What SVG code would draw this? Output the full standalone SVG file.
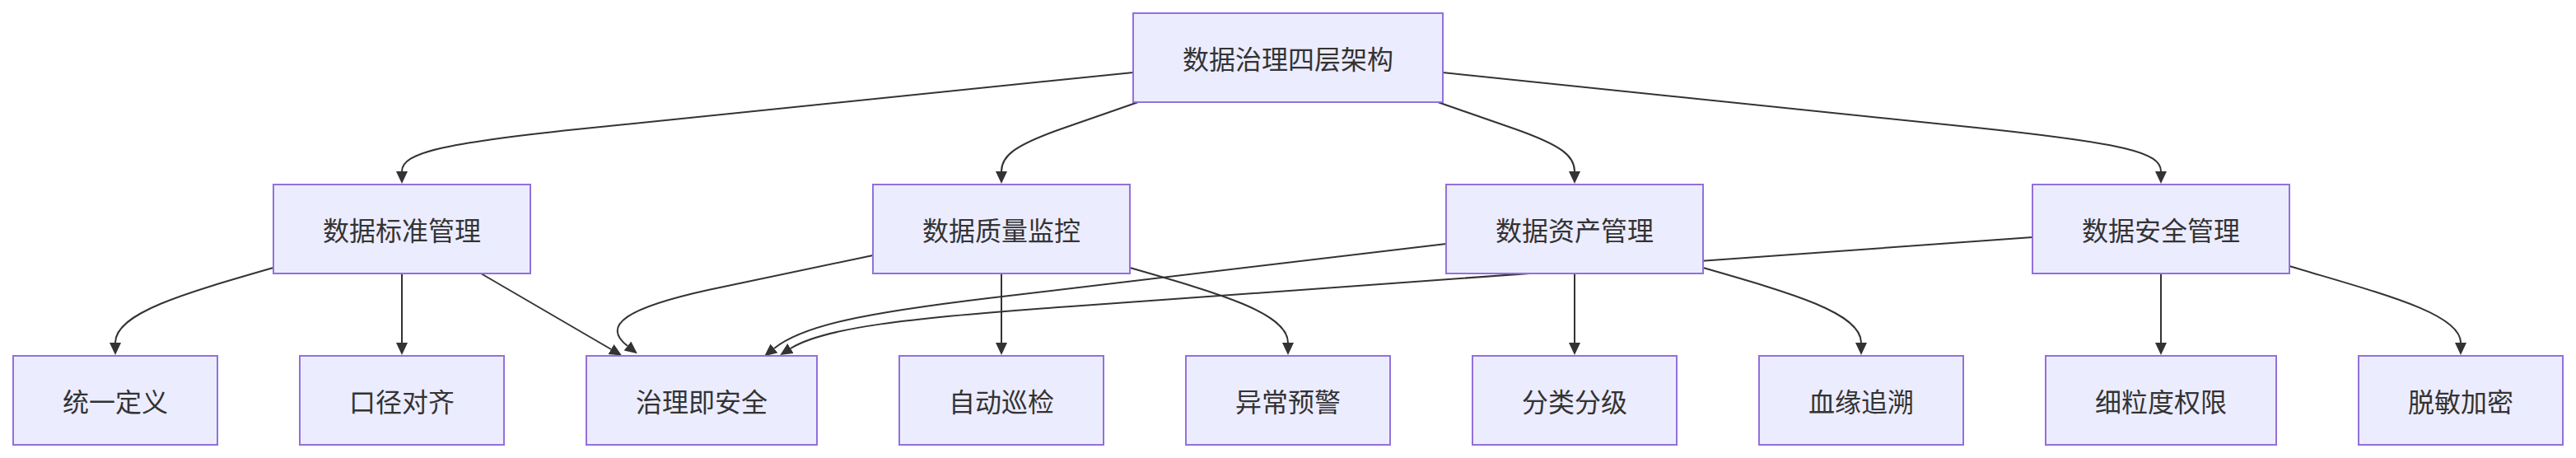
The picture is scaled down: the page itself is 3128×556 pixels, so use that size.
<svg xmlns="http://www.w3.org/2000/svg" width="3128" height="556" viewBox="0 0 3128 556">
<style>
.node rect{fill:#ECECFF;stroke:#9370DB;stroke-width:2}
.node text{font-family:"Noto Sans CJK SC","Noto Sans",sans-serif;font-size:32px;fill:#333;text-anchor:middle;dominant-baseline:central}
.edges path{fill:none;stroke:#333;stroke-width:2;marker-end:url(#arrow)}
</style>
<defs>
<marker id="arrow" markerUnits="userSpaceOnUse" markerWidth="16" markerHeight="16" refX="0" refY="7" orient="auto"><path d="M0,0 L15,7 L0,14 z" fill="#333"/></marker>
</defs>
<rect width="3128" height="556" fill="#fff"/>
<g class="edges">
<path d="M1376,88 L700,157 C540,174 488,185 488,208"/>
<path d="M1382,124 L1290,156 C1230,177 1216,190 1216,208"/>
<path d="M1746,124 L1838,156 C1898,177 1912,190 1912,208"/>
<path d="M1752,88 L2400,155 C2580,174 2624,185 2624,208"/>
<path d="M332,325 C224,356 140,380 140,416"/>
<path d="M488,332 L488,416"/>
<path d="M584,332 L742,424"/>
<path d="M1060,310 L860,352 C760,374 730,395 762,420"/>
<path d="M1216,332 L1216,416"/>
<path d="M1372,325 C1480,356 1564,380 1564,416"/>
<path d="M1756,296 L1200,362 C1050,380 975,395 940,423"/>
<path d="M1912,332 L1912,416"/>
<path d="M2068,325 C2176,356 2260,380 2260,416"/>
<path d="M2468,288 L1300,372 C1100,386 1000,398 960,423"/>
<path d="M2624,332 L2624,416"/>
<path d="M2780,323 C2890,356 2988,380 2988,416"/>
</g>
<g id="root" class="node"><rect x="1376" y="16" width="376" height="108"/><text x="1564" y="70">数据治理四层架构</text></g>
<g id="std" class="node"><rect x="332" y="224" width="312" height="108"/><text x="488" y="278">数据标准管理</text></g>
<g id="quality" class="node"><rect x="1060" y="224" width="312" height="108"/><text x="1216" y="278">数据质量监控</text></g>
<g id="asset" class="node"><rect x="1756" y="224" width="312" height="108"/><text x="1912" y="278">数据资产管理</text></g>
<g id="security" class="node"><rect x="2468" y="224" width="312" height="108"/><text x="2624" y="278">数据安全管理</text></g>
<g id="n1" class="node"><rect x="16" y="432" width="248" height="108"/><text x="140" y="486">统一定义</text></g>
<g id="n2" class="node"><rect x="364" y="432" width="248" height="108"/><text x="488" y="486">口径对齐</text></g>
<g id="n3" class="node"><rect x="712" y="432" width="280" height="108"/><text x="852" y="486">治理即安全</text></g>
<g id="n4" class="node"><rect x="1092" y="432" width="248" height="108"/><text x="1216" y="486">自动巡检</text></g>
<g id="n5" class="node"><rect x="1440" y="432" width="248" height="108"/><text x="1564" y="486">异常预警</text></g>
<g id="n6" class="node"><rect x="1788" y="432" width="248" height="108"/><text x="1912" y="486">分类分级</text></g>
<g id="n7" class="node"><rect x="2136" y="432" width="248" height="108"/><text x="2260" y="486">血缘追溯</text></g>
<g id="n8" class="node"><rect x="2484" y="432" width="280" height="108"/><text x="2624" y="486">细粒度权限</text></g>
<g id="n9" class="node"><rect x="2864" y="432" width="248" height="108"/><text x="2988" y="486">脱敏加密</text></g>
</svg>
